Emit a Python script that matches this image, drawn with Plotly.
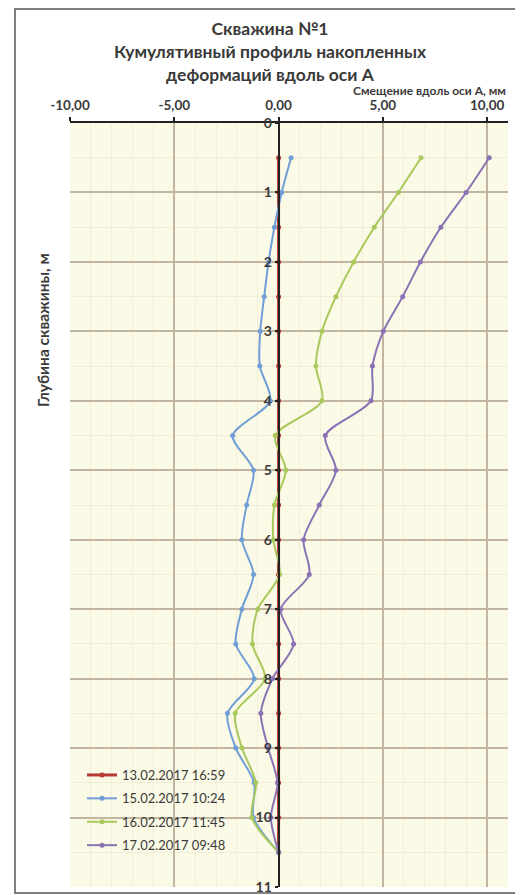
import plotly.graph_objects as go

depth = [0.5, 1.0, 1.5, 2.0, 2.5, 3.0, 3.5, 4.0, 4.5, 5.0, 5.5,
         6.0, 6.5, 7.0, 7.5, 8.0, 8.5, 9.0, 9.5, 10.0, 10.5]

s_1302 = [0.0, 0.0, 0.0, 0.0, 0.0, 0.0, 0.0, 0.0, 0.0, 0.0, 0.0,
          0.0, 0.0, 0.0, 0.0, 0.0, 0.0, 0.0, 0.0, 0.0, 0.0]
s_1502 = [0.6, 0.15, -0.2, -0.48, -0.69, -0.88, -0.9, -0.4, -2.2, -1.2, -1.53,
          -1.76, -1.2, -1.76, -2.05, -1.17, -2.45, -2.05, -1.17, -1.2, 0.0]
s_1602 = [6.83, 5.74, 4.59, 3.6, 2.75, 2.08, 1.79, 2.08, -0.16, 0.35, -0.2,
          -0.25, 0.05, -1.0, -1.25, -0.65, -2.08, -1.75, -1.09, -1.28, 0.0]
s_1702 = [10.1, 8.99, 7.78, 6.8, 5.95, 5.02, 4.5, 4.43, 2.24, 2.75, 1.95,
          1.2, 1.47, 0.1, 0.72, -0.29, -0.85, -0.5, -0.05, -0.37, 0.0]

series_names = ["13.02.2017 16:59", "15.02.2017 10:24",
                "16.02.2017 11:45", "17.02.2017 09:48"]
series_vals = [s_1302, s_1502, s_1602, s_1702]
series_colors = ["#b83a32", "#6f9fd6", "#a9c95c", "#8b72b5"]
series_widths = [3, 2, 2, 2]

x_ticks = [-10, -5, 0, 5, 10]
x_ticklabels = ["-10,00", "-5,00", "0,00", "5,00", "10,00"]
y_ticks = list(range(0, 12))

title_text = "Скважина №1<br>Кумулятивный профиль накопленных<br>деформаций вдоль оси А"
x_title = "Смещение вдоль оси А, мм"
y_title = "Глубина скважины, м"

FONT = "Lato"
TXT = "#3a3a3a"

# page body adds an 8px offset; figure sized to fit the window
OFF = 8
W, H = 523 - OFF, 895 - OFF
PX0, PX1, PY0, PY1 = 70, 508, 123, 887          # plot area in window pixels
L, T = PX0 - OFF, PY0 - OFF
R, B = W - (PX1 - OFF), H - (PY1 - OFF)
PW, PH = PX1 - PX0, PY1 - PY0


def px(x):
    return (x - PX0) / PW


def py(y):
    return 1 - (y - PY0) / PH


fig = go.Figure()
for i, (name, vals, col, w) in enumerate(zip(series_names, series_vals, series_colors, series_widths)):
    fig.add_trace(go.Scatter(
        x=vals, y=depth, name=name, mode="lines+markers", legendgroup="g%d" % i,
        line=dict(color=col, width=w, shape="spline", smoothing=0.8),
        marker=dict(color=col, size=5),
    ))

XMIN, XMAX = -10, 11

fig.update_layout(
    width=W, height=H,
    margin=dict(l=L, r=R, t=T, b=B, autoexpand=False),
    paper_bgcolor="white",
    plot_bgcolor="#fafae6",
    font=dict(family=FONT, color=TXT),
    title=dict(text="<b>" + title_text + "</b>", x=(270 - OFF) / W, xanchor="center",
               y=1 - 27 / H, yanchor="top", font=dict(size=17.5, color=TXT)),
    xaxis=dict(
        side="top", range=[XMIN, XMAX], tickvals=x_ticks, ticktext=x_ticklabels,
        showgrid=True, gridcolor="#c2b6a3", gridwidth=1.5,
        minor=dict(dtick=1, showgrid=True, gridcolor="#f0eed6", gridwidth=1),
        zeroline=False, showline=True, linecolor="#222222", linewidth=2,
        ticks="outside", ticklen=4, tickcolor="#222222", tickwidth=2,
        ticklabelstandoff=2, automargin=False,
        tickfont=dict(size=13.5, family=FONT, color=TXT, weight="bold"),
        fixedrange=True,
    ),
    yaxis=dict(
        range=[11, 0], tickvals=y_ticks, anchor="free",
        position=(0 - XMIN) / (XMAX - XMIN), automargin=False,
        showgrid=True, gridcolor="#c2b6a3", gridwidth=1.5,
        minor=dict(dtick=0.5, showgrid=True, gridcolor="#f0eed6", gridwidth=1),
        zeroline=False, showline=True, linecolor="#222222", linewidth=2,
        ticks="outside", ticklen=3, tickcolor="#222222", tickwidth=2,
        tickfont=dict(size=14, family=FONT, color=TXT, weight="bold"),
        fixedrange=True,
    ),
    legend=dict(x=px(82), y=py(760), xanchor="left", yanchor="top",
                bgcolor="rgba(0,0,0,0)", font=dict(size=13, color=TXT),
                itemwidth=30, tracegroupgap=3.5),
    showlegend=True,
)

fig.add_annotation(text="<b>" + x_title + "</b>", xref="paper", yref="paper",
                   x=1.0, y=py(91), xanchor="right", yanchor="middle",
                   showarrow=False, font=dict(size=12, color=TXT, family=FONT))
fig.add_annotation(text="<b>" + y_title + "</b>", xref="paper", yref="paper",
                   x=px(43), y=py(330), xanchor="center",
                   yanchor="middle", textangle=-90, showarrow=False,
                   font=dict(size=15.5, color=TXT, family=FONT))

fig.add_shape(type="rect", xref="paper", yref="paper",
              x0=px(15), x1=px(521), y0=py(893), y1=py(9),
              line=dict(color="#555555", width=1.5), layer="below")

fig.write_html("out.html")
